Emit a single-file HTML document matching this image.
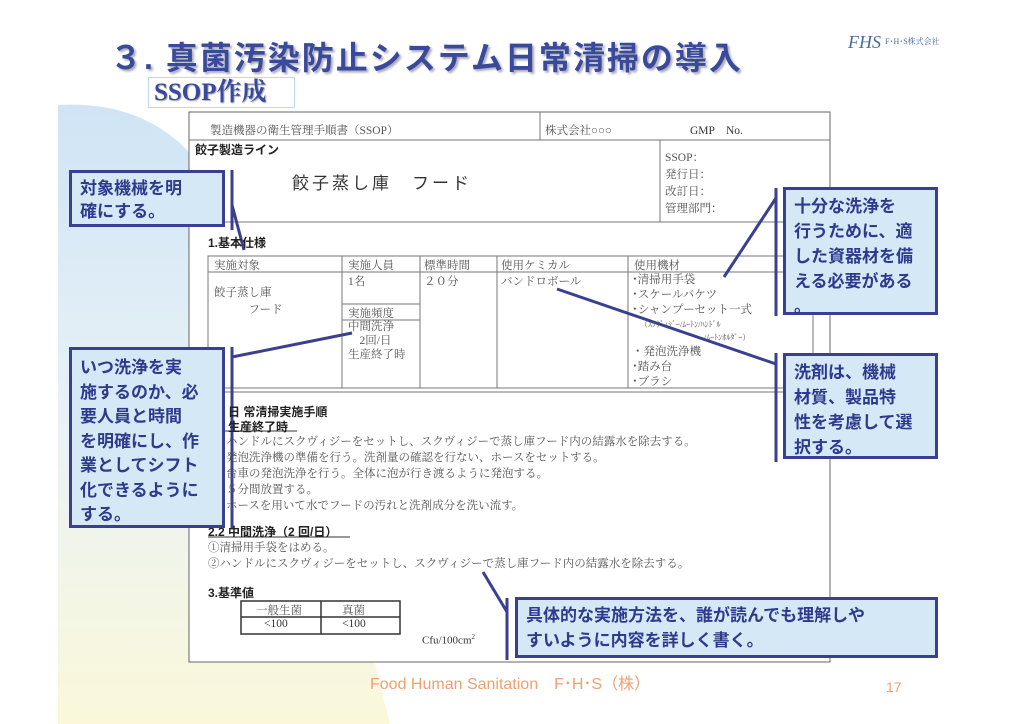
<!DOCTYPE html>
<html><head><meta charset="utf-8"><style>
body{margin:0;width:1024px;height:724px;overflow:hidden;background:#fff;position:relative;font-family:"Liberation Serif","Noto Serif CJK SC","Noto Sans CJK JP",serif;}
.a{position:absolute;white-space:nowrap;}
.s{font-size:11.5px;color:#555;}
.b{font-weight:bold;color:#222;font-family:"Liberation Sans","Noto Sans CJK JP",sans-serif;font-size:12px;}
.co{position:absolute;background:#d5e8f6;border:3px solid #3b3f8f;color:#2e3a8c;font-family:"Liberation Sans","Noto Sans CJK JP",sans-serif;font-weight:bold;font-size:17px;line-height:25px;padding:4px 8px;box-sizing:border-box;}
</style></head><body>
<svg class="a" style="left:0;top:0" width="1024" height="724">
<defs><linearGradient id="g" x1="0" y1="0" x2="0" y2="1"><stop offset="0" stop-color="#cfe4f5"/><stop offset="0.5" stop-color="#e8f2f6"/><stop offset="1" stop-color="#fbf8da"/></linearGradient></defs>
<path d="M58 105 Q150 100 200 165 L300 360 L 390 724 L58 724 Z" fill="url(#g)"/>
<rect x="189" y="112" width="641" height="550" fill="#fff" stroke="#666" stroke-width="1"/>
<g stroke="#777" stroke-width="1" fill="none">
<line x1="189" y1="140" x2="830" y2="140"/><line x1="540" y1="112" x2="540" y2="140"/>
<line x1="660" y1="140" x2="660" y2="222"/><line x1="189" y1="222" x2="830" y2="222"/>
<rect x="208" y="256" width="605" height="132"/><line x1="208" y1="272" x2="813" y2="272"/>
<line x1="342" y1="256" x2="342" y2="388"/><line x1="420" y1="256" x2="420" y2="388"/><line x1="497" y1="256" x2="497" y2="388"/><line x1="628" y1="256" x2="628" y2="388"/>
<line x1="342" y1="304" x2="420" y2="304"/><line x1="342" y1="320" x2="420" y2="320"/>
<line x1="189" y1="392" x2="830" y2="392"/>
</g>
<g stroke="#333" stroke-width="1.5" fill="none"><rect x="241" y="601" width="159" height="33"/><line x1="241" y1="617" x2="400" y2="617"/><line x1="321" y1="601" x2="321" y2="634"/></g>
<g stroke="#333" stroke-width="1"><line x1="210" y1="431" x2="297" y2="431"/><line x1="208" y1="537" x2="350" y2="537"/></g>
<g stroke="#3b3f8f" stroke-width="3" fill="none">
<line x1="232" y1="170" x2="232" y2="230"/><line x1="232" y1="205" x2="244" y2="250"/>
<line x1="232" y1="347" x2="232" y2="528"/><line x1="232" y1="357" x2="352" y2="333"/>
<line x1="776" y1="188" x2="776" y2="316"/><line x1="776" y1="198" x2="724" y2="277"/>
<line x1="776" y1="353" x2="776" y2="462"/><line x1="557" y1="289" x2="776" y2="364"/>
<line x1="507" y1="598" x2="507" y2="660"/><line x1="483" y1="572" x2="507" y2="612"/>
</g>
</svg>
<div class="a" style="left:110px;top:33px;font-size:32px;letter-spacing:2px;font-weight:bold;color:#3a4a9a;font-family:'Liberation Sans','Noto Sans CJK JP',sans-serif;text-shadow:2px 2px 2px #aab;">３. 真菌汚染防止システム日常清掃の導入</div>
<div class="a" style="left:148px;top:77px;width:147px;height:31px;border:1px solid #bcd8f0;box-sizing:border-box;font-size:25px;font-weight:bold;color:#3a4a9a;line-height:29px;padding-left:5px;text-shadow:1px 1px 1px #aab;">SSOP作成</div>
<div class="a" style="left:848px;top:32px;font-size:18px;font-style:italic;color:#4a6a9a;font-family:'Liberation Serif',serif;">FHS</div>
<div class="a" style="left:885px;top:36px;font-size:8px;color:#4a6a9a;">F･H･S株式会社</div>

<div class="a s" style="left:210px;top:122px;">製造機器の衛生管理手順書（SSOP）</div>
<div class="a s" style="left:545px;top:122px;">株式会社○○○</div>
<div class="a s" style="left:690px;top:122px;color:#333">GMP　No.</div>
<div class="a b" style="left:195px;top:141px;">餃子製造ライン</div>
<div class="a" style="left:292px;top:169px;font-size:17px;color:#333;letter-spacing:3px;font-family:'Liberation Sans','Noto Sans CJK JP',sans-serif;">餃子蒸し庫　フード</div>
<div class="a s" style="left:665px;top:150px;line-height:17px;">SSOP：<br>発行日：<br>改訂日：<br>管理部門：</div>
<div class="a b" style="left:208px;top:234px;">1.基本仕様</div>
<div class="a s" style="left:214px;top:257px;">実施対象</div>
<div class="a s" style="left:348px;top:257px;">実施人員</div>
<div class="a s" style="left:424px;top:257px;">標準時間</div>
<div class="a s" style="left:501px;top:257px;">使用ケミカル</div>
<div class="a s" style="left:634px;top:257px;">使用機材</div>
<div class="a s" style="left:214px;top:285px;line-height:17px;">餃子蒸し庫<br>　　　フード</div>
<div class="a s" style="left:348px;top:273px;">1名</div>
<div class="a s" style="left:424px;top:273px;">２０分</div>
<div class="a s" style="left:501px;top:273px;">バンドロボール</div>
<div class="a s" style="left:348px;top:305px;">実施頻度</div>
<div class="a s" style="left:348px;top:320px;line-height:14px;">中間洗浄<br>　2回/日<br>生産終了時</div>
<div class="a s" style="left:632px;top:273px;line-height:15px;">･清掃用手袋<br>･スケールバケツ<br>･シャンプーセット一式</div>
<div class="a" style="left:640px;top:318px;font-size:8px;color:#555;line-height:13px;">（ｽｸｳﾞｨｼﾞｰ/ﾑｰﾄﾝ/ﾊﾝﾄﾞﾙ<br>　　　　　　　　/ﾑｰﾄﾝﾎﾙﾀﾞｰ）</div>
<div class="a s" style="left:632px;top:345px;line-height:15px;">・発泡洗浄機<br>･踏み台<br>･ブラシ</div>
<div class="a b" style="left:228px;top:403px;">日 常清掃実施手順</div>
<div class="a b" style="left:228px;top:418px;">生産終了時</div>
<div class="a s" style="left:226px;top:434px;line-height:16px;">ハンドルにスクヴィジーをセットし、スクヴィジーで蒸し庫フード内の結露水を除去する。<br>発泡洗浄機の準備を行う。洗剤量の確認を行ない、ホースをセットする。<br>台車の発泡洗浄を行う。全体に泡が行き渡るように発泡する。<br>５分間放置する。<br>ホースを用いて水でフードの汚れと洗剤成分を洗い流す。</div>
<div class="a b" style="left:208px;top:523px;">2.2 中間洗浄（2 回/日）</div>
<div class="a s" style="left:208px;top:540px;line-height:16px;">①清掃用手袋をはめる。<br>②ハンドルにスクヴィジーをセットし、スクヴィジーで蒸し庫フード内の結露水を除去する。</div>
<div class="a b" style="left:208px;top:584px;">3.基準値</div>
<div class="a s" style="left:256px;top:602px;">一般生菌</div>
<div class="a s" style="left:342px;top:602px;">真菌</div>
<div class="a s" style="left:264px;top:618px;color:#333">&lt;100</div>
<div class="a s" style="left:342px;top:618px;color:#333">&lt;100</div>
<div class="a s" style="left:422px;top:633px;color:#333;font-size:11px;">Cfu/100cm<sup style="font-size:7px">2</sup></div>

<div class="co" style="left:69px;top:170px;width:156px;height:57px;line-height:23px;padding-top:4px;">対象機械を明<br>確にする。</div>
<div class="co" style="left:69px;top:347px;width:156px;height:181px;line-height:24.5px;padding-top:6px;">いつ洗浄を実<br>施するのか、必<br>要人員と時間<br>を明確にし、作<br>業としてシフト<br>化できるように<br>する。</div>
<div class="co" style="left:783px;top:187px;width:155px;height:128px;">十分な洗浄を<br>行うために、適<br>した資器材を備<br>える必要がある<br>。</div>
<div class="co" style="left:783px;top:353px;width:155px;height:106px;">洗剤は、機械<br>材質、製品特<br>性を考慮して選<br>択する。</div>
<div class="co" style="left:515px;top:597px;width:423px;height:61px;line-height:25px;padding-top:3px;">具体的な実施方法を、誰が読んでも理解しや<br>すいように内容を詳しく書く。</div>

<div class="a" style="left:370px;top:670px;font-size:16px;color:#f0a070;font-family:'Liberation Sans','Noto Sans CJK JP',sans-serif;">Food Human Sanitation　F･H･S（株）</div>
<div class="a" style="left:886px;top:679px;font-size:14px;color:#f0a070;font-family:'Liberation Sans',sans-serif;">17</div>
</body></html>
